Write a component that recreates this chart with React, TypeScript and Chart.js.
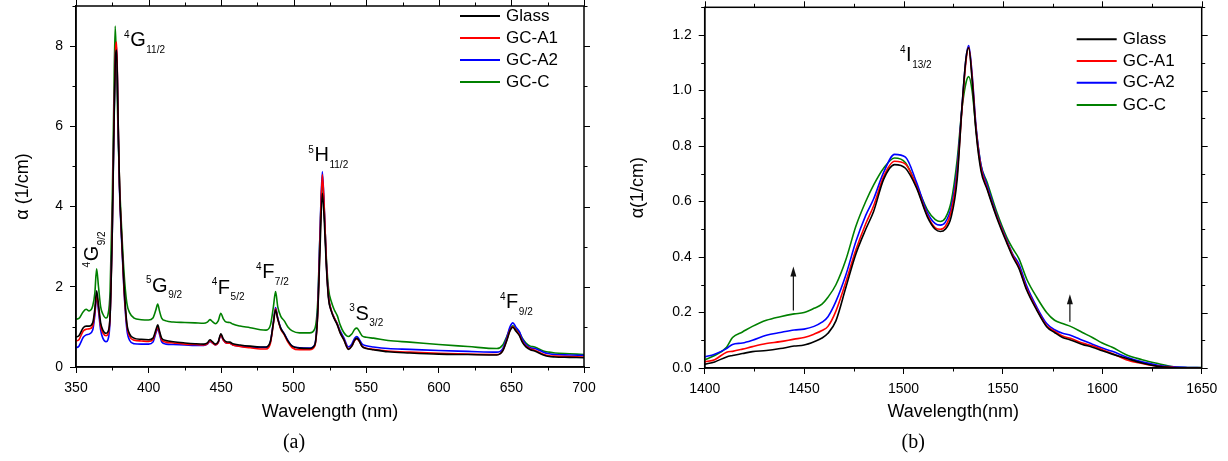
import React, { useEffect, useRef } from 'react';
import { Chart, registerables } from 'chart.js';

Chart.register(...registerables);

const FONT = '"Liberation Sans", Arial, sans-serif';
const SERIF = '"Liberation Serif", "Times New Roman", serif';

const seriesNames = ['Glass', 'GC-A1', 'GC-A2', 'GC-C'];
const seriesColors = ['#000000', '#ff0000', '#0000ff', '#008000'];

// ---------- Panel (a) ----------
const wavelengthA = [
  350, 352, 355, 357, 359, 361.5, 363, 364.2, 365.5, 367,
  368.5, 370.7, 372, 373.5, 375, 376, 377, 378, 379, 380,
  381.5, 383, 385, 387, 390, 395, 400, 403, 405, 406.3,
  407.5, 409, 412, 417, 425, 432, 438, 440.5, 442.3, 444,
  446, 448, 449.8, 451.5, 453.5, 456, 458, 463, 470, 477,
  481, 484, 486, 487.5, 489, 491, 493.5, 496, 499, 504,
  511, 514.5, 516.5, 518, 519.7, 521, 522.5, 524, 526, 528,
  530, 532, 534.5, 537.7, 540, 542, 543.5, 545, 547, 550,
  555, 565, 580, 600, 620, 640, 644, 647, 649, 651,
  653, 655.5, 657.5, 660, 663, 666, 669, 672, 676, 680,
  690, 700,
];
const glassA = [
  0.75, 0.78, 0.98, 1.02, 1.02, 1.1, 1.45, 1.9, 1.55, 1.1,
  0.92, 0.84, 0.88, 1.3, 3.4, 5.6, 7.5, 7.9, 6.2, 4.5,
  3.2, 2.1, 1.1, 0.82, 0.72, 0.69, 0.68, 0.72, 0.92, 1.05,
  0.9, 0.72, 0.66, 0.63, 0.6, 0.58, 0.57, 0.6, 0.68, 0.63,
  0.57, 0.63, 0.83, 0.7, 0.63, 0.62, 0.58, 0.55, 0.52, 0.5,
  0.5, 0.65, 1.1, 1.42, 1.2, 0.97, 0.82, 0.65, 0.52, 0.47,
  0.46, 0.55, 1.3, 2.8, 4.33, 3.7, 2.5, 1.7, 1.38, 1.2,
  1.05, 0.85, 0.68, 0.44, 0.52, 0.67, 0.72, 0.66, 0.52, 0.46,
  0.43, 0.38, 0.35, 0.32, 0.31, 0.3, 0.4, 0.68, 0.9, 0.99,
  0.9, 0.78, 0.62, 0.5, 0.43, 0.4, 0.35, 0.3, 0.26, 0.25,
  0.24, 0.23,
];
const gcA1A = [
  0.65, 0.68, 0.9, 0.94, 0.95, 1.02, 1.38, 1.8, 1.48, 1.02,
  0.85, 0.78, 0.82, 1.3, 3.5, 5.8, 7.7, 8.1, 6.2, 4.5,
  3.2, 2.0, 1.05, 0.76, 0.67, 0.65, 0.64, 0.68, 0.88, 1.0,
  0.86, 0.68, 0.62, 0.6, 0.57, 0.56, 0.55, 0.58, 0.65, 0.6,
  0.55, 0.61, 0.8, 0.67, 0.6, 0.59, 0.55, 0.51, 0.48, 0.45,
  0.45, 0.6, 1.08, 1.45, 1.2, 0.95, 0.8, 0.62, 0.48, 0.43,
  0.43, 0.52, 1.3, 3.0, 4.8, 4.0, 2.6, 1.75, 1.4, 1.22,
  1.07, 0.86, 0.69, 0.45, 0.52, 0.66, 0.7, 0.65, 0.52, 0.47,
  0.44, 0.4, 0.37, 0.34, 0.32, 0.31, 0.41, 0.7, 0.92, 1.0,
  0.92, 0.8, 0.64, 0.52, 0.45, 0.42, 0.37, 0.32, 0.28, 0.27,
  0.26, 0.25,
];
const gcA2A = [
  0.48, 0.52, 0.74, 0.8, 0.82, 0.92, 1.3, 1.76, 1.4, 0.92,
  0.72, 0.63, 0.68, 1.2, 3.4, 5.7, 7.6, 8.0, 6.1, 4.4,
  3.1, 1.95, 0.95, 0.66, 0.58, 0.57, 0.57, 0.62, 0.84, 0.96,
  0.82, 0.63, 0.57, 0.56, 0.55, 0.54, 0.54, 0.57, 0.64, 0.6,
  0.55, 0.61, 0.8, 0.67, 0.6, 0.59, 0.55, 0.52, 0.5, 0.49,
  0.49, 0.64, 1.12, 1.48, 1.22, 0.98, 0.83, 0.66, 0.52, 0.48,
  0.47, 0.56, 1.4, 3.2, 4.87, 4.0, 2.6, 1.75, 1.4, 1.22,
  1.08, 0.9, 0.73, 0.5, 0.57, 0.72, 0.76, 0.7, 0.58, 0.53,
  0.5, 0.46, 0.44, 0.41, 0.39, 0.37, 0.46, 0.76, 1.0, 1.1,
  1.0, 0.88, 0.7, 0.56, 0.48, 0.46, 0.42, 0.37, 0.33, 0.31,
  0.3, 0.29,
];
const gcCA = [
  1.19, 1.21, 1.38, 1.44, 1.40, 1.52, 1.85, 2.45, 2.0, 1.5,
  1.32, 1.22, 1.30, 1.9, 4.2, 6.5, 8.5, 7.4, 5.8, 4.6,
  3.4, 2.4, 1.6, 1.35, 1.22, 1.18, 1.17, 1.22, 1.42, 1.57,
  1.4, 1.22, 1.15, 1.12, 1.11, 1.10, 1.09, 1.12, 1.18, 1.13,
  1.08, 1.15, 1.34, 1.2, 1.12, 1.11, 1.07, 1.02, 0.98, 0.93,
  0.92, 1.05, 1.5, 1.88, 1.5, 1.27, 1.15, 1.0, 0.9, 0.85,
  0.85, 0.95, 1.6, 3.2, 4.63, 3.9, 2.7, 1.95, 1.62, 1.42,
  1.28, 1.05, 0.86, 0.76, 0.82, 0.94, 0.97, 0.9, 0.78, 0.74,
  0.72, 0.66, 0.62, 0.56, 0.51, 0.46, 0.55, 0.78, 0.95, 1.03,
  0.95, 0.86, 0.72, 0.6, 0.52, 0.5, 0.45, 0.4, 0.37, 0.35,
  0.33, 0.31,
];
const xTickLabelsA = [350, 400, 450, 500, 550, 600, 650, 700];
const yTickLabelsA = [0, 2, 4, 6, 8];

const levelLabelsA = [
  { sup: '4', main: 'G', sub: '11/2', x: 383.1, y: 8.0, rot: 0 },
  { sup: '4', main: 'G', sub: '9/2', x: 365.2, y: 2.48, rot: -90 },
  { sup: '5', main: 'G', sub: '9/2', x: 398.2, y: 1.88, rot: 0 },
  { sup: '4', main: 'F', sub: '5/2', x: 443.5, y: 1.83, rot: 0 },
  { sup: '4', main: 'F', sub: '7/2', x: 474.0, y: 2.22, rot: 0 },
  { sup: '5', main: 'H', sub: '11/2', x: 510.1, y: 5.13, rot: 0 },
  { sup: '3', main: 'S', sub: '3/2', x: 538.3, y: 1.18, rot: 0 },
  { sup: '4', main: 'F', sub: '9/2', x: 642.1, y: 1.47, rot: 0 },
];

// ---------- Panel (b) ----------
const wavelengthB = [
  1400, 1405, 1411, 1414, 1419, 1424, 1431, 1438, 1445, 1450,
  1455, 1459, 1462, 1466, 1471, 1476, 1481, 1485, 1490, 1495.5,
  1501, 1506.5, 1512, 1516, 1518.5, 1521, 1524, 1527, 1529.5, 1531.5,
  1532.8, 1534.5, 1536.5, 1539, 1542, 1547, 1552, 1555, 1558, 1562,
  1567, 1572, 1576, 1580, 1584, 1590, 1595, 1600, 1605, 1612,
  1620, 1628, 1636, 1643, 1650,
];
const glassB = [
  0.014, 0.022, 0.04, 0.045, 0.052, 0.059, 0.063, 0.07, 0.079, 0.083,
  0.095, 0.108, 0.125, 0.17, 0.29, 0.41, 0.5, 0.565, 0.68, 0.733,
  0.72, 0.65, 0.545, 0.5, 0.492, 0.5, 0.545, 0.68, 0.95, 1.12,
  1.154, 1.04, 0.85, 0.71, 0.645, 0.54, 0.45, 0.4, 0.36, 0.28,
  0.209, 0.149, 0.128, 0.11, 0.101, 0.085, 0.075, 0.062, 0.05, 0.035,
  0.018, 0.006, 0.001, 0.0, 0.0,
];
const gcA1B = [
  0.022, 0.03, 0.057, 0.06, 0.068, 0.077, 0.088, 0.095, 0.104, 0.11,
  0.122, 0.135, 0.15, 0.205, 0.31, 0.425, 0.52, 0.585, 0.69, 0.745,
  0.735, 0.655, 0.55, 0.505, 0.5, 0.51, 0.565, 0.7, 0.94, 1.11,
  1.155, 1.05, 0.86, 0.72, 0.65, 0.545, 0.455, 0.405, 0.365, 0.285,
  0.212, 0.152, 0.132, 0.115, 0.107, 0.09, 0.08, 0.066, 0.052, 0.03,
  0.016, 0.006, 0.002, 0.001, 0.001,
];
const gcA2B = [
  0.04, 0.05, 0.07, 0.085, 0.09, 0.1, 0.118, 0.128, 0.137, 0.14,
  0.15, 0.165, 0.185, 0.24, 0.335, 0.455, 0.55, 0.61, 0.705, 0.77,
  0.76, 0.67, 0.56, 0.52, 0.515, 0.525, 0.58, 0.72, 0.95, 1.12,
  1.162, 1.06, 0.87, 0.73, 0.66, 0.55, 0.46, 0.41, 0.375, 0.295,
  0.22, 0.16, 0.138, 0.125, 0.118, 0.1, 0.086, 0.072, 0.06, 0.04,
  0.022, 0.01, 0.004, 0.002, 0.001,
];
const gcCB = [
  0.03, 0.045, 0.075, 0.11, 0.13, 0.15, 0.172, 0.185, 0.195, 0.2,
  0.215, 0.23, 0.255, 0.3, 0.39, 0.51, 0.6, 0.66, 0.72, 0.757,
  0.74, 0.66, 0.57, 0.535, 0.528, 0.54, 0.6, 0.75, 0.94, 1.03,
  1.05, 1.0, 0.86, 0.73, 0.67, 0.56, 0.47, 0.43, 0.395, 0.32,
  0.255, 0.2, 0.172, 0.16, 0.15, 0.128, 0.11, 0.09, 0.075, 0.048,
  0.03, 0.016, 0.004, 0.002, 0.002,
];
const xTickLabelsB = [1400, 1450, 1500, 1550, 1600, 1650];
const yTickLabelsB = [0, 0.2, 0.4, 0.6, 0.8, 1.0, 1.2];

const levelLabelsB = [{ sup: '4', main: 'I', sub: '13/2', x: 1498.2, y: 1.106, rot: 0 }];
const arrowsB = [
  { x: 1444.6, from: 0.207, to: 0.366 },
  { x: 1583.7, from: 0.167, to: 0.266 },
];

// ---------- helpers ----------
const MAJOR_LEN = 6;
const MINOR_LEN = 3.5;
const MIRROR_OUT = true;

function isMajor(list: number[], v: number) {
  return list.some((m) => Math.abs(m - v) < 1e-6);
}

type Panel = {
  x: number[];
  series: number[][];
  xMin: number; xMax: number; xStep: number; xMajor: number[];
  yMin: number; yMax: number; yStep: number; yMajor: number[]; yDecimals: number;
  xTitle: string; yTitle: string;
  padRight: number; padTop: number; yWidth: number; xHeight: number;
  yTitlePad: number; xTitlePad: number;
  legendX: number; legendY: number[];
  levels: { sup: string; main: string; sub: string; x: number; y: number; rot: number }[];
  arrows: { x: number; from: number; to: number }[];
  panelLabel: string; panelDx: number; panelY: number;
};

const panelA: Panel = {
  x: wavelengthA,
  series: [glassA, gcA1A, gcA2A, gcCA],
  xMin: 350, xMax: 700, xStep: 25, xMajor: xTickLabelsA,
  yMin: 0, yMax: 9, yStep: 1, yMajor: yTickLabelsA, yDecimals: 0,
  xTitle: 'Wavelength (nm)', yTitle: 'α (1/cm)',
  padRight: 30, padTop: 6, yWidth: 76, xHeight: 94,
  yTitlePad: 12.2, xTitlePad: 38.2,
  legendX: 460, legendY: [16, 38, 60, 82],
  levels: levelLabelsA,
  arrows: [],
  panelLabel: '(a)', panelDx: -36, panelY: 443,
};

const panelB: Panel = {
  x: wavelengthB,
  series: [glassB, gcA1B, gcA2B, gcCB],
  xMin: 1400, xMax: 1650, xStep: 25, xMajor: xTickLabelsB,
  yMin: 0, yMax: 1.3, yStep: 0.1, yMajor: yTickLabelsB, yDecimals: 1,
  xTitle: 'Wavelength(nm)', yTitle: 'α(1/cm)',
  padRight: 26.3, padTop: 7.3, yWidth: 90.7, xHeight: 93,
  yTitlePad: 13.5, xTitlePad: 38.2,
  legendX: 462.7, legendY: [39.3, 61, 82.7, 105],
  levels: levelLabelsB,
  arrows: arrowsB,
  panelLabel: '(b)', panelDx: -40, panelY: 443,
};

function drawLevel(ctx: CanvasRenderingContext2D, px: number, py: number, l: { sup: string; main: string; sub: string; rot: number }) {
  ctx.save();
  ctx.translate(px, py);
  ctx.rotate((l.rot * Math.PI) / 180);
  ctx.fillStyle = '#000';
  ctx.textAlign = 'left';
  ctx.textBaseline = 'alphabetic';
  ctx.font = `10px ${FONT}`;
  ctx.fillText(l.sup, 0, -8.3);
  let x = ctx.measureText(l.sup).width + 0.6;
  ctx.font = `20px ${FONT}`;
  ctx.fillText(l.main, x, 0);
  x += ctx.measureText(l.main).width + 0.5;
  ctx.font = `10px ${FONT}`;
  ctx.fillText(l.sub, x, 6.7);
  ctx.restore();
}

function overlayPlugin(p: Panel) {
  return {
    id: 'overlay',
    afterDraw(chart: any) {
      const { ctx, chartArea: a, scales } = chart;
      const xs = scales.x;
      const ys = scales.y;
      ctx.save();
      ctx.strokeStyle = '#000';
      ctx.lineWidth = 1;
      const line = (x1: number, y1: number, x2: number, y2: number) => {
        ctx.beginPath();
        ctx.moveTo(x1, y1);
        ctx.lineTo(x2, y2);
        ctx.stroke();
      };
      const dir = MIRROR_OUT ? 1 : -1;
      xs.ticks.forEach((t: any) => {
        const px = Math.round(xs.getPixelForValue(t.value)) + 0.5;
        const major = isMajor(p.xMajor, t.value);
        const len = major ? MAJOR_LEN : MINOR_LEN;
        if (!major) line(px, a.bottom, px, a.bottom + len);
        line(px, a.top, px, a.top - dir * len);
      });
      ys.ticks.forEach((t: any) => {
        const py = Math.round(ys.getPixelForValue(t.value)) + 0.5;
        const major = isMajor(p.yMajor, t.value);
        const len = major ? MAJOR_LEN : MINOR_LEN;
        if (!major) line(a.left, py, a.left - len, py);
        line(a.right, py, a.right + dir * len, py);
      });
      ctx.lineWidth = 1.5;
      ctx.strokeRect(a.left, a.top, a.right - a.left, a.bottom - a.top);

      // level labels
      p.levels.forEach((l) => {
        drawLevel(ctx, xs.getPixelForValue(l.x), ys.getPixelForValue(l.y), l);
      });

      // arrows
      p.arrows.forEach((ar) => {
        const px = xs.getPixelForValue(ar.x);
        const y0 = ys.getPixelForValue(ar.from);
        const y1 = ys.getPixelForValue(ar.to);
        ctx.strokeStyle = '#111';
        ctx.fillStyle = '#111';
        ctx.lineWidth = 1.2;
        line(px, y0, px, y1 + 8);
        ctx.beginPath();
        ctx.moveTo(px, y1);
        ctx.lineTo(px - 3, y1 + 10);
        ctx.lineTo(px + 3, y1 + 10);
        ctx.closePath();
        ctx.fill();
      });

      // legend
      ctx.font = `17px ${FONT}`;
      ctx.textBaseline = 'middle';
      ctx.textAlign = 'left';
      seriesNames.forEach((name, i) => {
        const y = p.legendY[i];
        ctx.strokeStyle = seriesColors[i];
        ctx.lineWidth = 2;
        line(p.legendX, y, p.legendX + 40, y);
        ctx.fillStyle = '#000';
        ctx.fillText(name, p.legendX + 46, y);
      });

      // panel label
      ctx.font = `20px ${SERIF}`;
      ctx.textAlign = 'center';
      ctx.textBaseline = 'middle';
      ctx.fillStyle = '#000';
      ctx.fillText(p.panelLabel, (a.left + a.right) / 2 + p.panelDx, p.panelY);
      ctx.restore();
    },
  };
}

function buildConfig(p: Panel): any {
  return {
    type: 'line',
    data: {
      datasets: p.series.map((ys, i) => ({
        label: seriesNames[i],
        data: p.x.map((x, j) => ({ x, y: ys[j] })),
        borderColor: seriesColors[i],
        backgroundColor: seriesColors[i],
        borderWidth: 1.6,
        pointRadius: 0,
        fill: false,
        cubicInterpolationMode: 'monotone',
      })),
    },
    options: {
      responsive: false,
      animation: false,
      devicePixelRatio: 1,
      events: [],
      layout: { padding: { left: 0, right: p.padRight, top: p.padTop, bottom: 0 } },
      plugins: { legend: { display: false }, tooltip: { enabled: false }, title: { display: false } },
      scales: {
        x: {
          type: 'linear',
          min: p.xMin,
          max: p.xMax,
          ticks: {
            stepSize: p.xStep,
            autoSkip: false,
            maxRotation: 0,
            padding: 7,
            color: '#000',
            font: { family: FONT, size: 14 },
            callback: (v: number) => (isMajor(p.xMajor, v) ? String(v) : ''),
          },
          grid: {
            drawOnChartArea: false,
            drawTicks: true,
            tickLength: MAJOR_LEN,
            tickWidth: 1,
            tickColor: (c: any) => (c.tick && isMajor(p.xMajor, c.tick.value) ? '#000' : 'rgba(0,0,0,0)'),
          },
          border: { display: true, color: '#000', width: 1.5 },
          title: {
            display: true,
            text: p.xTitle,
            color: '#000',
            font: { family: FONT, size: 18 },
            padding: { top: 0, bottom: p.xTitlePad },
          },
          afterFit: (s: any) => {
            s.height = p.xHeight;
            s.paddingLeft = 0;
            s.paddingRight = 0;
          },
        },
        y: {
          type: 'linear',
          min: p.yMin,
          max: p.yMax,
          ticks: {
            stepSize: p.yStep,
            autoSkip: false,
            padding: 7,
            color: '#000',
            font: { family: FONT, size: 14 },
            callback: (v: number) => (isMajor(p.yMajor, v) ? v.toFixed(p.yDecimals) : ''),
          },
          grid: {
            drawOnChartArea: false,
            drawTicks: true,
            tickLength: MAJOR_LEN,
            tickWidth: 1,
            tickColor: (c: any) => (c.tick && isMajor(p.yMajor, c.tick.value) ? '#000' : 'rgba(0,0,0,0)'),
          },
          border: { display: true, color: '#000', width: 1.5 },
          title: {
            display: true,
            text: p.yTitle,
            color: '#000',
            font: { family: FONT, size: 18 },
            padding: { top: p.yTitlePad, bottom: 0 },
          },
          afterFit: (s: any) => {
            s.width = p.yWidth;
            s.paddingTop = 0;
            s.paddingBottom = 0;
          },
        },
      },
    },
    plugins: [overlayPlugin(p)],
  };
}

export default function App() {
  const refA = useRef<HTMLCanvasElement>(null);
  const refB = useRef<HTMLCanvasElement>(null);
  useEffect(() => {
    const a = new Chart(refA.current as HTMLCanvasElement, buildConfig(panelA));
    const b = new Chart(refB.current as HTMLCanvasElement, buildConfig(panelB));
    return () => {
      a.destroy();
      b.destroy();
    };
  }, []);
  return (
    <div style={{ position: 'absolute', left: 0, top: 0, width: 1228, height: 461, background: '#fff' }}>
      <canvas ref={refA} width={614} height={461} style={{ position: 'absolute', left: 0, top: 0, width: 614, height: 461 }} />
      <canvas ref={refB} width={614} height={461} style={{ position: 'absolute', left: 614, top: 0, width: 614, height: 461 }} />
    </div>
  );
}
